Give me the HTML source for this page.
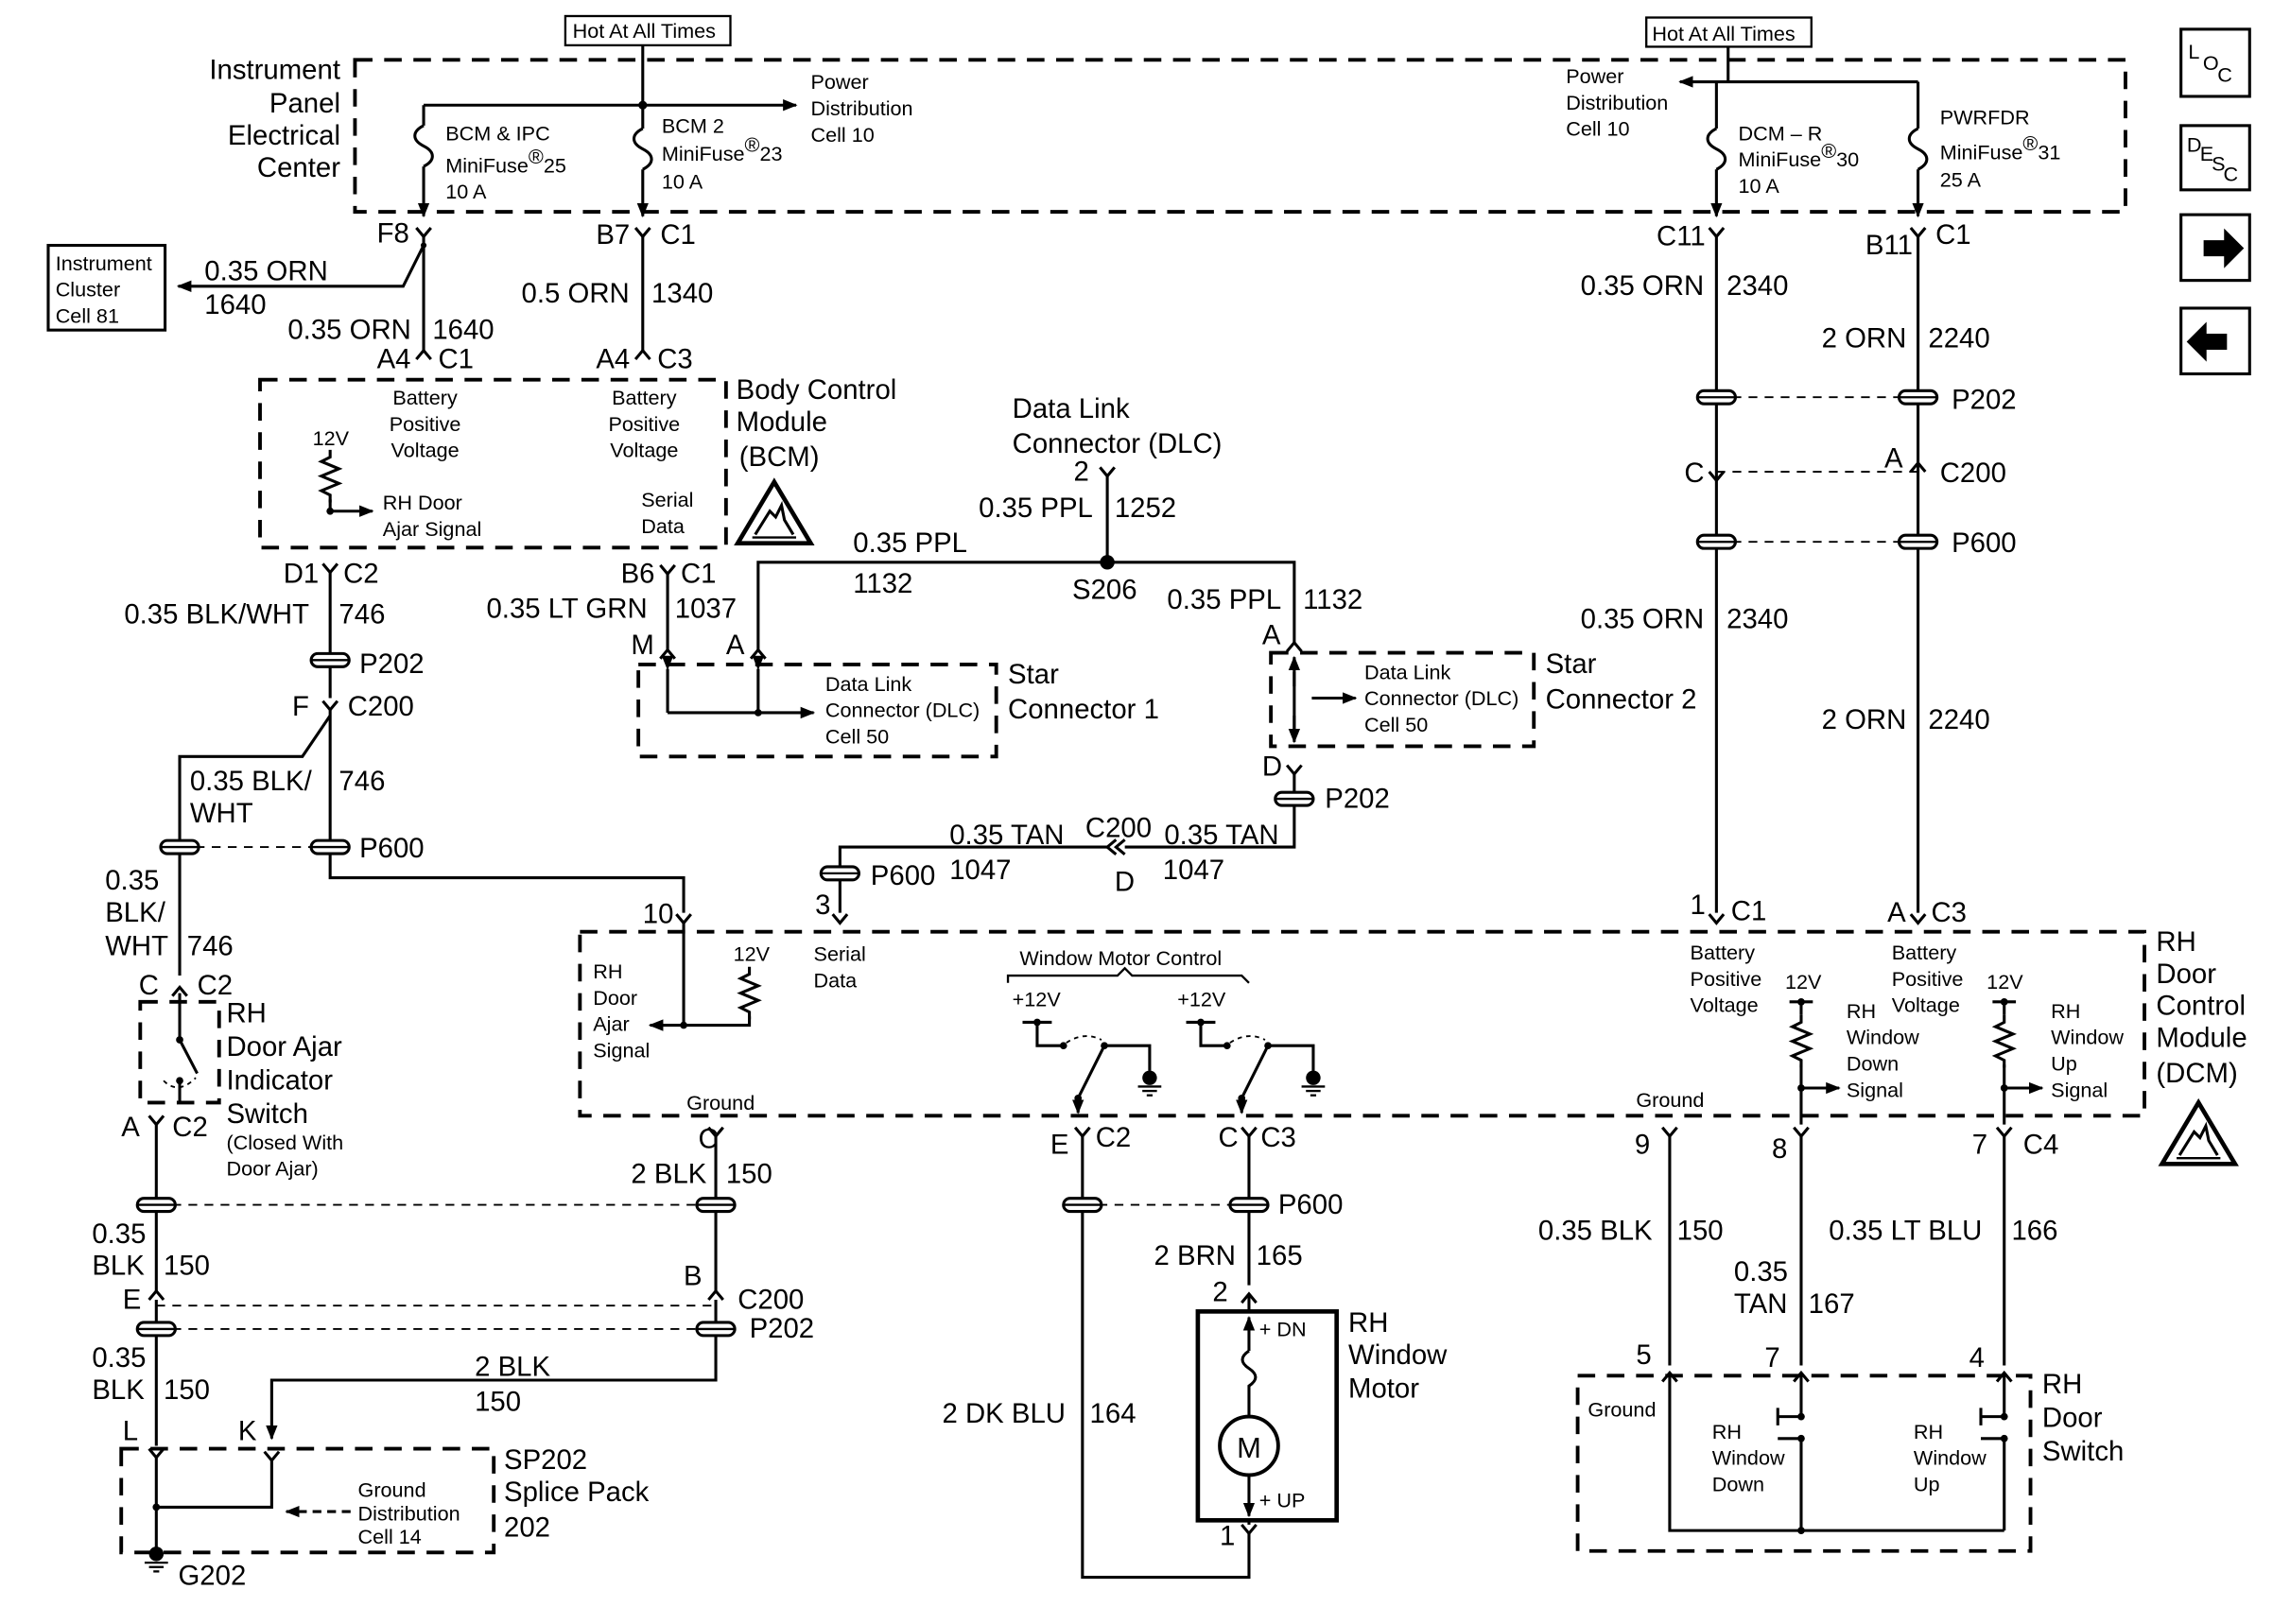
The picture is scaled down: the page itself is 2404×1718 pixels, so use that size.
<!DOCTYPE html>
<html><head><meta charset="utf-8"><style>
html,body{margin:0;padding:0;background:#fff}
svg{display:block}
text{font-family:"Liberation Sans",Arial,sans-serif;fill:#000}
.L{font-size:19px}.S{font-size:14px}
</style></head><body>
<svg width="2404" height="1718" viewBox="0 0 1556 1112" preserveAspectRatio="none" xmlns="http://www.w3.org/2000/svg">
<defs>
<g id="pp"><rect x="-13" y="-4.5" width="26" height="9" rx="4.5" fill="#fff" stroke="#000" stroke-width="2"/><line x1="-13" y1="0" x2="13" y2="0" stroke="#000" stroke-width="1.5"/></g>
<path id="vd" d="M-5,-6 L0,0 L5,-6" fill="none" stroke="#000" stroke-width="2"/>
<path id="vu" d="M-5,6 L0,0 L5,6" fill="none" stroke="#000" stroke-width="2"/>
<path id="res" d="M0,0 l0,5 l-6,3 l12,5 l-12,5 l12,5 l-12,5 l6,3 l0,5" fill="none" stroke="#000" stroke-width="2"/>
<path id="fuse" d="M0,0 c-8,4 -8,10 0,14 c8,4 8,10 0,14" fill="none" stroke="#000" stroke-width="2"/>
<g id="gnd"><circle cx="0" cy="0" r="5"/><line x1="-8" y1="6" x2="8" y2="6" stroke="#000" stroke-width="1.5"/><line x1="-5" y1="9" x2="5" y2="9" stroke="#000" stroke-width="1.5"/><line x1="-2" y1="12" x2="2" y2="12" stroke="#000" stroke-width="1.5"/></g>
<g id="esd"><path d="M0,42 L25,0 L50,42 Z" fill="#fff" stroke="#000" stroke-width="3"/><path d="M12,36 L22,20 L26,24 L30,16 L32,26 L38,36" fill="none" stroke="#000" stroke-width="2"/><line x1="10" y1="38" x2="40" y2="38" stroke="#000" stroke-width="1.5"/></g>
<marker id="ar" markerWidth="10" markerHeight="10" refX="9" refY="5" orient="auto" markerUnits="userSpaceOnUse"><path d="M0,1 L10,5 L0,9 z" fill="#000"/></marker>
</defs>
<g fill="none" stroke="#000" stroke-width="2">
<g stroke-dasharray="12,8" stroke-width="2.5">
<rect x="243" y="41" width="1212" height="104"/>
<rect x="178" y="260" width="319" height="115"/>
<rect x="437" y="455" width="245" height="63"/>
<rect x="870" y="447" width="180" height="64"/>
<rect x="397" y="638" width="1071" height="126"/>
<rect x="96" y="686" width="54" height="69"/>
<rect x="83" y="992" width="255" height="71"/>
<rect x="1080" y="942" width="310" height="120"/>
</g>
<rect x="387" y="11" width="113" height="20" stroke-width="1.5"/>
<rect x="1127" y="12" width="113" height="20" stroke-width="1.5"/>
<rect x="33" y="168" width="80" height="58" stroke-width="2"/>
<rect x="820" y="898" width="95" height="143" stroke-width="3"/>
<rect x="1493" y="20" width="47" height="46"/><rect x="1493" y="86" width="47" height="44"/>
<rect x="1493" y="147" width="47" height="45"/><rect x="1493" y="211" width="47" height="45"/>
<line x1="440" y1="31" x2="440" y2="88"/>
<line x1="290" y1="72" x2="545" y2="72" marker-end="url(#ar)"/>
<line x1="290" y1="72" x2="290" y2="86"/>
<use href="#fuse" x="290" y="86"/><line x1="290" y1="114" x2="290" y2="148" marker-end="url(#ar)"/>
<use href="#fuse" x="440" y="88"/><line x1="440" y1="116" x2="440" y2="148" marker-end="url(#ar)"/>
<line x1="1183" y1="32" x2="1183" y2="56"/>
<line x1="1313" y1="56" x2="1150" y2="56" marker-end="url(#ar)"/>
<line x1="1175" y1="56" x2="1175" y2="88"/><line x1="1313" y1="56" x2="1313" y2="88"/>
<use href="#fuse" x="1175" y="88"/><line x1="1175" y1="116" x2="1175" y2="148" marker-end="url(#ar)"/>
<use href="#fuse" x="1313" y="88"/><line x1="1313" y1="116" x2="1313" y2="148" marker-end="url(#ar)"/>
<use href="#vd" x="290" y="162"/><use href="#vd" x="440" y="162"/><use href="#vd" x="1175" y="162"/><use href="#vd" x="1313" y="162"/>
<line x1="290" y1="162" x2="290" y2="240"/>
<path d="M290,168 L276,196 L122,196" marker-end="url(#ar)"/>
<line x1="440" y1="162" x2="440" y2="240"/>
<use href="#vu" x="290" y="240"/><use href="#vu" x="440" y="240"/>
<use href="#res" x="226" y="308"/><line x1="226" y1="342" x2="226" y2="350"/>
<line x1="226" y1="350" x2="255" y2="350" marker-end="url(#ar)"/>
<use href="#vd" x="226" y="392"/>
<line x1="226" y1="392" x2="226" y2="478"/>
<use href="#vd" x="226" y="486"/>
<path d="M226,486 L226,601 L468,601 L468,625"/>
<path d="M226,490 L207,518 L123,518 L123,668"/>
<line x1="123" y1="580" x2="226" y2="580" stroke-dasharray="6,5" stroke-width="1.2"/>
<use href="#vu" x="123" y="676"/>
<path d="M123,680 L123,700 M123,700 L123,712 M123,712 L135,735"/>
<path d="M112,740 q10,10 22,-2" stroke-dasharray="3,3" stroke-width="1.2"/>
<line x1="123" y1="740" x2="123" y2="756"/>
<use href="#vd" x="107" y="770"/>
<line x1="107" y1="770" x2="107" y2="884"/>
<use href="#vu" x="107" y="884"/>
<line x1="107" y1="890" x2="107" y2="990"/>
<use href="#vd" x="107" y="998"/>
<line x1="107" y1="998" x2="107" y2="1060"/>
<line x1="107" y1="825" x2="490" y2="825" stroke-dasharray="6,5" stroke-width="1.2"/>
<line x1="107" y1="894" x2="490" y2="894" stroke-dasharray="6,5" stroke-width="1.2"/>
<line x1="107" y1="910" x2="490" y2="910" stroke-dasharray="6,5" stroke-width="1.2"/>
<use href="#vd" x="490" y="778"/>
<line x1="490" y1="778" x2="490" y2="884"/>
<use href="#vu" x="490" y="884"/>
<path d="M490,890 L490,945 L186,945 L186,985" marker-end="url(#ar)"/>
<use href="#vd" x="186" y="1000"/>
<path d="M107,1032 L186,1032 L186,1000"/>
<line x1="240" y1="1035" x2="196" y2="1035" stroke-dasharray="6,4" marker-end="url(#ar)"/>
<use href="#vd" x="758" y="326"/>
<line x1="758" y1="326" x2="758" y2="385"/>
<path d="M519,445 L519,385 L886,385 L886,440"/>
<use href="#vu" x="519" y="445"/><use href="#vu" x="886" y="440"/>
<use href="#vd" x="457" y="393"/>
<line x1="457" y1="393" x2="457" y2="445"/><use href="#vu" x="457" y="445"/>
<line x1="457" y1="458" x2="457" y2="488" marker-start="url(#ar)"/>
<line x1="519" y1="458" x2="519" y2="488" marker-start="url(#ar)"/>
<line x1="457" y1="488" x2="557" y2="488" marker-end="url(#ar)"/>
<line x1="886" y1="460" x2="886" y2="500"/>
<line x1="886" y1="470" x2="886" y2="450" marker-end="url(#ar)"/>
<line x1="886" y1="490" x2="886" y2="508" marker-end="url(#ar)"/>
<line x1="898" y1="478" x2="928" y2="478" marker-end="url(#ar)"/>
<use href="#vd" x="886" y="530"/>
<path d="M886,530 L886,580 L770,580"/>
<path d="M770,575 L764,580 L770,585 M764,575 L758,580 L764,585"/>
<path d="M758,580 L575,580 L575,625"/>
<use href="#vd" x="575" y="632"/><use href="#vd" x="468" y="632"/>
<line x1="468" y1="632" x2="468" y2="702"/>
<line x1="468" y1="702" x2="445" y2="702" marker-end="url(#ar)"/>
<use href="#res" x="513" y="662"/><path d="M513,696 L513,702 L468,702"/>
<path d="M690,673 L690,668 L765,668 L770,663 L775,668 L850,668 L855,673" stroke-width="1.5"/>
<path d="M700,700 L720,700 M710,700 L710,716 L728,716 M756,716 L787,716 L787,733"/>
<path d="M730,714 q12,-8 24,-2" stroke-dasharray="3,3" stroke-width="1.2"/>
<path d="M738,752 L756,716"/><line x1="738" y1="752" x2="738" y2="762" marker-end="url(#ar)"/>
<path d="M812,700 L832,700 M822,700 L822,716 L840,716 M868,716 L899,716 L899,733"/>
<path d="M842,714 q12,-8 24,-2" stroke-dasharray="3,3" stroke-width="1.2"/>
<path d="M850,752 L868,716"/><line x1="850" y1="752" x2="850" y2="762" marker-end="url(#ar)"/>
<use href="#vd" x="741" y="778"/><use href="#vd" x="855" y="778"/>
<path d="M741,778 L741,1080 L855,1080 L855,1050"/>
<line x1="855" y1="778" x2="855" y2="880"/>
<line x1="741" y1="825" x2="855" y2="825" stroke-dasharray="6,5" stroke-width="1.2"/>
<use href="#vu" x="855" y="886"/><line x1="855" y1="886" x2="855" y2="898"/>
<line x1="855" y1="925" x2="855" y2="902" marker-end="url(#ar)"/>
<path d="M855,925 c-6,4 -6,8 0,12 c6,4 6,8 0,12 L855,970"/>
<circle cx="855" cy="990" r="20" stroke-width="2.5"/>
<line x1="855" y1="1010" x2="855" y2="1038" marker-end="url(#ar)"/>
<use href="#vd" x="855" y="1050"/><line x1="855" y1="1041" x2="855" y2="1044"/>
<line x1="1175" y1="162" x2="1175" y2="625"/>
<line x1="1313" y1="162" x2="1313" y2="625"/>
<line x1="1175" y1="272" x2="1313" y2="272" stroke-dasharray="6,5" stroke-width="1.2"/>
<line x1="1175" y1="323" x2="1313" y2="323" stroke-dasharray="6,5" stroke-width="1.2"/>
<line x1="1175" y1="371" x2="1313" y2="371" stroke-dasharray="6,5" stroke-width="1.2"/>
<use href="#vd" x="1175" y="329"/><use href="#vu" x="1313" y="317"/>
<use href="#vd" x="1175" y="632"/><use href="#vd" x="1313" y="632"/>
<line x1="1233" y1="685" x2="1233" y2="695"/><line x1="1225" y1="686" x2="1241" y2="686"/>
<use href="#res" x="1233" y="695"/><line x1="1233" y1="729" x2="1233" y2="770"/>
<line x1="1233" y1="745" x2="1259" y2="745" marker-end="url(#ar)"/>
<line x1="1372" y1="685" x2="1372" y2="695"/><line x1="1364" y1="686" x2="1380" y2="686"/>
<use href="#res" x="1372" y="695"/><line x1="1372" y1="729" x2="1372" y2="770"/>
<line x1="1372" y1="745" x2="1398" y2="745" marker-end="url(#ar)"/>
<use href="#vd" x="1143" y="778"/><use href="#vd" x="1233" y="778"/><use href="#vd" x="1372" y="778"/>
<line x1="1143" y1="778" x2="1143" y2="935"/><line x1="1233" y1="778" x2="1233" y2="935"/><line x1="1372" y1="778" x2="1372" y2="935"/>
<use href="#vu" x="1143" y="940"/><use href="#vu" x="1233" y="940"/><use href="#vu" x="1372" y="940"/>
<path d="M1143,940 L1143,1048 L1372,1048 M1233,1048 L1233,985 M1233,940 L1233,970 M1372,1048 L1372,985 M1372,940 L1372,970"/>
<path d="M1217,970 L1233,970 M1217,964 L1217,976 M1217,985 L1233,985"/>
<path d="M1356,970 L1372,970 M1356,964 L1356,976 M1356,985 L1372,985"/>
</g>
<use href="#pp" x="226" y="452"/><use href="#pp" x="123" y="580"/><use href="#pp" x="226" y="580"/>
<use href="#pp" x="107" y="825"/><use href="#pp" x="490" y="825"/><use href="#pp" x="107" y="910"/><use href="#pp" x="490" y="910"/>
<use href="#pp" x="886" y="547"/><use href="#pp" x="575" y="598"/>
<use href="#pp" x="741" y="825"/><use href="#pp" x="855" y="825"/>
<use href="#pp" x="1175" y="272"/><use href="#pp" x="1313" y="272"/><use href="#pp" x="1175" y="371"/><use href="#pp" x="1313" y="371"/>
<g fill="#000">
<circle cx="440" cy="72" r="3"/><circle cx="758" cy="385" r="5"/><circle cx="226" cy="350" r="2.5"/><circle cx="519" cy="488" r="2.5"/>
<circle cx="468" cy="702" r="2.5"/><circle cx="107" cy="1032" r="2.5"/><circle cx="290" cy="168" r="2"/>
<circle cx="710" cy="700" r="2.5"/><circle cx="822" cy="700" r="2.5"/><circle cx="728" cy="716" r="2.5"/><circle cx="756" cy="716" r="2.5"/><circle cx="840" cy="716" r="2.5"/><circle cx="868" cy="716" r="2.5"/><circle cx="738" cy="752" r="2.5"/><circle cx="850" cy="752" r="2.5"/>
<circle cx="1233" cy="686" r="2.5"/><circle cx="1372" cy="686" r="2.5"/><circle cx="1233" cy="745" r="2.5"/><circle cx="1372" cy="745" r="2.5"/>
<circle cx="1233" cy="970" r="2.5"/><circle cx="1233" cy="985" r="2.5"/><circle cx="1372" cy="970" r="2.5"/><circle cx="1372" cy="985" r="2.5"/><circle cx="1233" cy="1048" r="2.5"/>
<circle cx="123" cy="712" r="2.5"/><circle cx="123" cy="740" r="2.5"/>
</g>
<use href="#gnd" x="787" y="738"/><use href="#gnd" x="899" y="738"/><use href="#gnd" x="107" y="1064"/>
<use href="#esd" x="505" y="330"/><use href="#esd" x="1480" y="755"/>
<path d="M1510,166 L1524,166 L1524,160 L1534,170 L1524,180 L1524,174 L1510,174 Z" fill="#000" stroke="#000" stroke-width="3"/>
<path d="M1523,230 L1509,230 L1509,224 L1499,234 L1509,244 L1509,238 L1523,238 Z" fill="#000" stroke="#000" stroke-width="3"/>
<g class="S">
<text x="392" y="26">Hot At All Times</text><text x="1131" y="28">Hot At All Times</text>
<text x="555" y="61">Power</text><text x="555" y="79">Distribution</text><text x="555" y="97">Cell 10</text>
<text x="305" y="96">BCM &amp; IPC</text><text x="305" y="118">MiniFuse<tspan dy="-6">®</tspan><tspan dy="6">25</tspan></text><text x="305" y="136">10 A</text>
<text x="453" y="91">BCM 2</text><text x="453" y="110">MiniFuse<tspan dy="-6">®</tspan><tspan dy="6">23</tspan></text><text x="453" y="129">10 A</text>
<text x="1072" y="57">Power</text><text x="1072" y="75">Distribution</text><text x="1072" y="93">Cell 10</text>
<text x="1190" y="96">DCM – R</text><text x="1190" y="114">MiniFuse<tspan dy="-6">®</tspan><tspan dy="6">30</tspan></text><text x="1190" y="132">10 A</text>
<text x="1328" y="85">PWRFDR</text><text x="1328" y="109">MiniFuse<tspan dy="-6">®</tspan><tspan dy="6">31</tspan></text><text x="1328" y="128">25 A</text>
<text x="38" y="185">Instrument</text><text x="38" y="203">Cluster</text><text x="38" y="221">Cell 81</text>
<text x="291" y="277" text-anchor="middle">Battery</text><text x="291" y="295" text-anchor="middle">Positive</text><text x="291" y="313" text-anchor="middle">Voltage</text>
<text x="441" y="277" text-anchor="middle">Battery</text><text x="441" y="295" text-anchor="middle">Positive</text><text x="441" y="313" text-anchor="middle">Voltage</text>
<text x="214" y="305">12V</text><text x="262" y="349">RH Door</text><text x="262" y="367">Ajar Signal</text>
<text x="439" y="347">Serial</text><text x="439" y="365">Data</text>
<text x="565" y="473">Data Link</text><text x="565" y="491">Connector (DLC)</text><text x="565" y="509">Cell 50</text>
<text x="934" y="465">Data Link</text><text x="934" y="483">Connector (DLC)</text><text x="934" y="501">Cell 50</text>
<text x="406" y="670">RH</text><text x="406" y="688">Door</text><text x="406" y="706">Ajar</text><text x="406" y="724">Signal</text>
<text x="502" y="658">12V</text><text x="557" y="658">Serial</text><text x="557" y="676">Data</text>
<text x="698" y="661">Window Motor Control</text><text x="693" y="689">+12V</text><text x="806" y="689">+12V</text>
<text x="470" y="760">Ground</text><text x="1120" y="758">Ground</text>
<text x="1157" y="657">Battery</text><text x="1157" y="675">Positive</text><text x="1157" y="693">Voltage</text>
<text x="1295" y="657">Battery</text><text x="1295" y="675">Positive</text><text x="1295" y="693">Voltage</text>
<text x="1222" y="677">12V</text><text x="1360" y="677">12V</text>
<text x="1264" y="697">RH</text><text x="1264" y="715">Window</text><text x="1264" y="733">Down</text><text x="1264" y="751">Signal</text>
<text x="1404" y="697">RH</text><text x="1404" y="715">Window</text><text x="1404" y="733">Up</text><text x="1404" y="751">Signal</text>
<text x="155" y="787">(Closed With</text><text x="155" y="805">Door Ajar)</text>
<text x="245" y="1025">Ground</text><text x="245" y="1041">Distribution</text><text x="245" y="1057">Cell 14</text>
<text x="862" y="915">+ DN</text><text x="862" y="1032">+ UP</text>
<text x="1087" y="970">Ground</text>
<text x="1172" y="985">RH</text><text x="1172" y="1003">Window</text><text x="1172" y="1021">Down</text>
<text x="1310" y="985">RH</text><text x="1310" y="1003">Window</text><text x="1310" y="1021">Up</text>
<text x="1498" y="40">L</text><text x="1508" y="48">O</text><text x="1518" y="56">C</text>
<text x="1497" y="104">D</text><text x="1506" y="110">E</text><text x="1514" y="117">S</text><text x="1522" y="124">C</text>
</g>
<g class="L">
<text x="233" y="54" text-anchor="end">Instrument</text><text x="233" y="77" text-anchor="end">Panel</text><text x="233" y="99" text-anchor="end">Electrical</text><text x="233" y="121" text-anchor="end">Center</text>
<text x="258" y="166">F8</text><text x="408" y="167">B7</text><text x="452" y="167">C1</text>
<text x="140" y="192">0.35 ORN</text><text x="140" y="215">1640</text>
<text x="197" y="232">0.35 ORN</text><text x="296" y="232">1640</text><text x="258" y="252">A4</text><text x="300" y="252">C1</text>
<text x="357" y="207">0.5 ORN</text><text x="446" y="207">1340</text><text x="408" y="252">A4</text><text x="450" y="252">C3</text>
<text x="504" y="273">Body Control</text><text x="504" y="295">Module</text><text x="506" y="319">(BCM)</text>
<text x="194" y="399">D1</text><text x="235" y="399">C2</text><text x="85" y="427">0.35 BLK/WHT</text><text x="232" y="427">746</text>
<text x="246" y="461">P202</text><text x="200" y="490">F</text><text x="238" y="490">C200</text>
<text x="130" y="541">0.35 BLK/</text><text x="232" y="541">746</text><text x="130" y="563">WHT</text><text x="246" y="587">P600</text>
<text x="72" y="609">0.35</text><text x="72" y="631">BLK/</text><text x="72" y="654">WHT</text><text x="128" y="654">746</text>
<text x="95" y="681">C</text><text x="135" y="681">C2</text>
<text x="155" y="700">RH</text><text x="155" y="723">Door Ajar</text><text x="155" y="746">Indicator</text><text x="155" y="769">Switch</text>
<text x="83" y="778">A</text><text x="118" y="778">C2</text>
<text x="63" y="851">0.35</text><text x="63" y="873">BLK</text><text x="112" y="873">150</text><text x="84" y="896">E</text>
<text x="63" y="936">0.35</text><text x="63" y="958">BLK</text><text x="112" y="958">150</text><text x="84" y="986">L</text><text x="163" y="986">K</text>
<text x="122" y="1085">G202</text>
<text x="345" y="1006">SP202</text><text x="345" y="1028">Splice Pack</text><text x="345" y="1052">202</text>
<text x="478" y="786">C</text><text x="432" y="810">2 BLK</text><text x="497" y="810">150</text>
<text x="468" y="880">B</text><text x="505" y="896">C200</text><text x="513" y="916">P202</text>
<text x="325" y="942">2 BLK</text><text x="325" y="966">150</text>
<text x="693" y="286">Data Link</text><text x="693" y="310">Connector (DLC)</text><text x="735" y="329">2</text>
<text x="670" y="354">0.35 PPL</text><text x="763" y="354">1252</text>
<text x="584" y="378">0.35 PPL</text><text x="584" y="406">1132</text><text x="734" y="410">S206</text>
<text x="799" y="417">0.35 PPL</text><text x="892" y="417">1132</text>
<text x="425" y="399">B6</text><text x="466" y="399">C1</text><text x="333" y="423">0.35 LT GRN</text><text x="462" y="423">1037</text>
<text x="432" y="448">M</text><text x="497" y="448">A</text><text x="864" y="441">A</text>
<text x="690" y="468">Star</text><text x="690" y="492">Connector 1</text>
<text x="1058" y="461">Star</text><text x="1058" y="485">Connector 2</text>
<text x="864" y="531">D</text><text x="907" y="553">P202</text>
<text x="650" y="578">0.35 TAN</text><text x="743" y="573">C200</text><text x="797" y="578">0.35 TAN</text>
<text x="650" y="602">1047</text><text x="763" y="610">D</text><text x="796" y="602">1047</text>
<text x="596" y="606">P600</text><text x="558" y="626">3</text><text x="440" y="632">10</text>
<text x="1476" y="651">RH</text><text x="1476" y="673">Door</text><text x="1476" y="695">Control</text><text x="1476" y="717">Module</text><text x="1476" y="741">(DCM)</text>
<text x="719" y="790">E</text><text x="750" y="785">C2</text><text x="834" y="785">C</text><text x="863" y="785">C3</text>
<text x="875" y="831">P600</text><text x="790" y="866">2 BRN</text><text x="860" y="866">165</text><text x="830" y="891">2</text>
<text x="645" y="974">2 DK BLU</text><text x="746" y="974">164</text><text x="835" y="1058">1</text>
<text x="923" y="912">RH</text><text x="923" y="934">Window</text><text x="923" y="957">Motor</text>
<text x="1134" y="168">C11</text><text x="1277" y="174">B11</text><text x="1325" y="167">C1</text>
<text x="1082" y="202">0.35 ORN</text><text x="1182" y="202">2340</text><text x="1247" y="238">2 ORN</text><text x="1320" y="238">2240</text>
<text x="1336" y="280">P202</text><text x="1153" y="330">C</text><text x="1290" y="320">A</text><text x="1328" y="330">C200</text>
<text x="1336" y="378">P600</text><text x="1082" y="430">0.35 ORN</text><text x="1182" y="430">2340</text>
<text x="1247" y="499">2 ORN</text><text x="1320" y="499">2240</text>
<text x="1157" y="626">1</text><text x="1185" y="630">C1</text><text x="1292" y="631">A</text><text x="1322" y="631">C3</text>
<text x="1119" y="790">9</text><text x="1213" y="793">8</text><text x="1350" y="790">7</text><text x="1385" y="790">C4</text>
<text x="1053" y="849">0.35 BLK</text><text x="1148" y="849">150</text><text x="1187" y="877">0.35</text><text x="1187" y="899">TAN</text><text x="1238" y="899">167</text>
<text x="1252" y="849">0.35 LT BLU</text><text x="1377" y="849">166</text>
<text x="1120" y="934">5</text><text x="1208" y="936">7</text><text x="1348" y="936">4</text>
<text x="1398" y="954">RH</text><text x="1398" y="977">Door</text><text x="1398" y="1000">Switch</text>
</g>
<text x="855" y="998" text-anchor="middle" style="font-size:20px">M</text>
</svg>
</body></html>
